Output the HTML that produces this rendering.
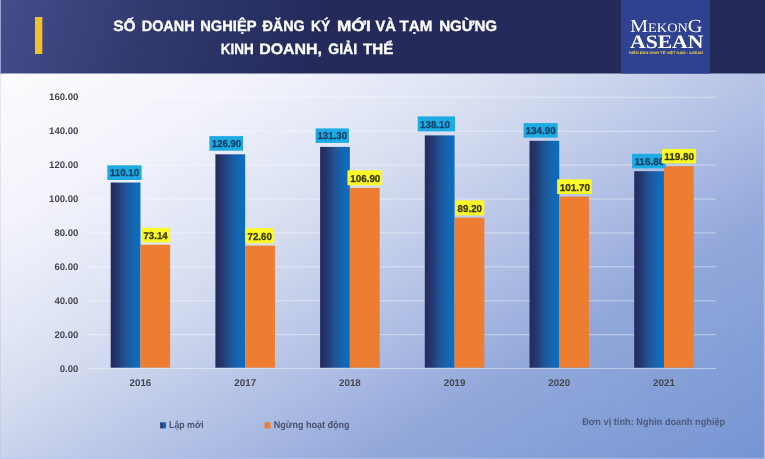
<!DOCTYPE html>
<html><head><meta charset="utf-8">
<style>
html,body{margin:0;padding:0;background:#fff;}
body{width:765px;height:459px;overflow:hidden;font-family:"Liberation Sans",sans-serif;}
svg{display:block;will-change:transform;}
text{font-family:"Liberation Sans",sans-serif;font-weight:bold;text-rendering:geometricPrecision;}
.ser{font-family:"Liberation Serif",serif;}
</style></head><body>
<svg width="765" height="459" viewBox="0 0 765 459">
<defs>
<linearGradient id="bg" x1="0" y1="0" x2="1" y2="1">
<stop offset="0" stop-color="#ffffff"/>
<stop offset="0.08" stop-color="#fcfcfe"/>
<stop offset="0.25" stop-color="#f2f3fb"/>
<stop offset="0.316" stop-color="#e9ecf8"/>
<stop offset="0.365" stop-color="#e2e7f5"/>
<stop offset="0.434" stop-color="#d7ddf1"/>
<stop offset="0.5" stop-color="#c8d2eb"/>
<stop offset="0.58" stop-color="#b7c4e7"/>
<stop offset="0.74" stop-color="#92a8da"/>
<stop offset="1" stop-color="#7595d3"/>
</linearGradient>
<linearGradient id="hd" gradientUnits="userSpaceOnUse" x1="0" y1="0" x2="300" y2="90">
<stop offset="0" stop-color="#454e8b"/>
<stop offset="0.5" stop-color="#30386d"/>
<stop offset="1" stop-color="#242b5b"/>
</linearGradient>
<linearGradient id="bl" x1="0" y1="0" x2="1" y2="0">
<stop offset="0" stop-color="#222b5d"/>
<stop offset="0.2" stop-color="#25356d"/>
<stop offset="0.5" stop-color="#1f5596"/>
<stop offset="0.8" stop-color="#1268b6"/>
<stop offset="1" stop-color="#0c6ec2"/>
</linearGradient>
</defs>
<rect x="0" y="0" width="765" height="459" fill="url(#bg)"/>
<rect x="0" y="0" width="765" height="73.5" fill="url(#hd)"/>
<rect x="621" y="0" width="89" height="73.5" fill="#2f4290"/>
<rect x="35" y="17" width="7.3" height="37" fill="#f3c02d"/>

<line x1="88" x2="716" y1="368.6" y2="368.6" stroke="#ffffff" stroke-opacity="0.45" stroke-width="1"/>
<text x="78.4" y="371.8" text-anchor="end" font-size="9.6" fill="#45474f">0.00</text>
<line x1="88" x2="716" y1="334.7" y2="334.7" stroke="#ffffff" stroke-opacity="0.45" stroke-width="1"/>
<text x="78.4" y="337.9" text-anchor="end" font-size="9.6" fill="#45474f">20.00</text>
<line x1="88" x2="716" y1="300.8" y2="300.8" stroke="#ffffff" stroke-opacity="0.45" stroke-width="1"/>
<text x="78.4" y="304.0" text-anchor="end" font-size="9.6" fill="#45474f">40.00</text>
<line x1="88" x2="716" y1="266.8" y2="266.8" stroke="#ffffff" stroke-opacity="0.45" stroke-width="1"/>
<text x="78.4" y="270.0" text-anchor="end" font-size="9.6" fill="#45474f">60.00</text>
<line x1="88" x2="716" y1="232.9" y2="232.9" stroke="#ffffff" stroke-opacity="0.45" stroke-width="1"/>
<text x="78.4" y="236.1" text-anchor="end" font-size="9.6" fill="#45474f">80.00</text>
<line x1="88" x2="716" y1="199.0" y2="199.0" stroke="#ffffff" stroke-opacity="0.45" stroke-width="1"/>
<text x="78.4" y="202.2" text-anchor="end" font-size="9.6" fill="#45474f">100.00</text>
<line x1="88" x2="716" y1="165.1" y2="165.1" stroke="#ffffff" stroke-opacity="0.45" stroke-width="1"/>
<text x="78.4" y="168.3" text-anchor="end" font-size="9.6" fill="#45474f">120.00</text>
<line x1="88" x2="716" y1="131.2" y2="131.2" stroke="#ffffff" stroke-opacity="0.45" stroke-width="1"/>
<text x="78.4" y="134.4" text-anchor="end" font-size="9.6" fill="#45474f">140.00</text>
<line x1="88" x2="716" y1="97.2" y2="97.2" stroke="#ffffff" stroke-opacity="0.45" stroke-width="1"/>
<text x="78.4" y="100.4" text-anchor="end" font-size="9.6" fill="#45474f">160.00</text>
<rect x="110.7" y="182.5" width="29.75" height="185.2" fill="url(#bl)"/>
<rect x="140.4" y="244.7" width="29.75" height="123.0" fill="#ed7d31"/>
<text x="140.4" y="385.9" text-anchor="middle" font-size="9.8" fill="#45474f">2016</text>
<rect x="215.4" y="154.3" width="29.75" height="213.4" fill="url(#bl)"/>
<rect x="245.2" y="245.6" width="29.75" height="122.1" fill="#ed7d31"/>
<text x="245.2" y="385.9" text-anchor="middle" font-size="9.8" fill="#45474f">2017</text>
<rect x="320.1" y="146.9" width="29.75" height="220.8" fill="url(#bl)"/>
<rect x="349.9" y="187.9" width="29.75" height="179.8" fill="#ed7d31"/>
<text x="349.9" y="385.9" text-anchor="middle" font-size="9.8" fill="#45474f">2018</text>
<rect x="424.8" y="135.4" width="29.75" height="232.3" fill="url(#bl)"/>
<rect x="454.6" y="217.7" width="29.75" height="150.0" fill="#ed7d31"/>
<text x="454.6" y="385.9" text-anchor="middle" font-size="9.8" fill="#45474f">2019</text>
<rect x="529.5" y="140.8" width="29.75" height="226.9" fill="url(#bl)"/>
<rect x="559.2" y="196.6" width="29.75" height="171.1" fill="#ed7d31"/>
<text x="559.2" y="385.9" text-anchor="middle" font-size="9.8" fill="#45474f">2020</text>
<rect x="634.2" y="171.2" width="29.75" height="196.5" fill="url(#bl)"/>
<rect x="664.0" y="166.2" width="29.75" height="201.5" fill="#ed7d31"/>
<text x="664.0" y="385.9" text-anchor="middle" font-size="9.8" fill="#45474f">2021</text>
<rect x="107.3" y="165.3" width="34.3" height="14.7" fill="#1eaae3"/>
<text x="109.8" y="176.3" font-size="10" fill="#17436a" stroke="#17436a" stroke-width="0.3" textLength="29.4" lengthAdjust="spacingAndGlyphs">110.10</text>
<rect x="209.4" y="136.1" width="33.6" height="14.6" fill="#1eaae3"/>
<text x="211.8" y="147.2" font-size="10" fill="#17436a" stroke="#17436a" stroke-width="0.3" textLength="29.4" lengthAdjust="spacingAndGlyphs">126.90</text>
<rect x="315.6" y="128.4" width="33.3" height="14.5" fill="#1eaae3"/>
<text x="317.5" y="139.4" font-size="10" fill="#17436a" stroke="#17436a" stroke-width="0.3" textLength="29.5" lengthAdjust="spacingAndGlyphs">131.30</text>
<rect x="417.7" y="116.4" width="37.3" height="15.0" fill="#1eaae3"/>
<text x="420.1" y="127.8" font-size="10" fill="#17436a" stroke="#17436a" stroke-width="0.3" textLength="29.8" lengthAdjust="spacingAndGlyphs">138.10</text>
<rect x="523.6" y="123.1" width="34.1" height="14.6" fill="#1eaae3"/>
<text x="525.6" y="134.0" font-size="10" fill="#17436a" stroke="#17436a" stroke-width="0.3" textLength="30.2" lengthAdjust="spacingAndGlyphs">134.90</text>
<rect x="632.1" y="153.8" width="33.7" height="14.6" fill="#1eaae3"/>
<text x="634.4" y="165.0" font-size="10" fill="#17436a" stroke="#17436a" stroke-width="0.3" textLength="29.8" lengthAdjust="spacingAndGlyphs">116.80</text>
<rect x="141.8" y="227.8" width="28.4" height="14.6" fill="#fdf928"/>
<text x="143.5" y="239.1" font-size="10" fill="#38360f" stroke="#38360f" stroke-width="0.3" textLength="24.1" lengthAdjust="spacingAndGlyphs">73.14</text>
<rect x="245.6" y="228.2" width="28.6" height="15.1" fill="#fdf928"/>
<text x="247.5" y="239.6" font-size="10" fill="#38360f" stroke="#38360f" stroke-width="0.3" textLength="24.4" lengthAdjust="spacingAndGlyphs">72.60</text>
<rect x="347.5" y="170.3" width="34.6" height="15.0" fill="#fdf928"/>
<text x="350.3" y="181.7" font-size="10" fill="#38360f" stroke="#38360f" stroke-width="0.3" textLength="30.0" lengthAdjust="spacingAndGlyphs">106.90</text>
<rect x="455.3" y="200.4" width="29.0" height="15.0" fill="#fdf928"/>
<text x="457.6" y="211.9" font-size="10" fill="#38360f" stroke="#38360f" stroke-width="0.3" textLength="24.4" lengthAdjust="spacingAndGlyphs">89.20</text>
<rect x="557.2" y="179.3" width="34.5" height="14.8" fill="#fdf928"/>
<text x="559.7" y="190.7" font-size="10" fill="#38360f" stroke="#38360f" stroke-width="0.3" textLength="30.4" lengthAdjust="spacingAndGlyphs">101.70</text>
<rect x="662.1" y="148.9" width="34.0" height="14.6" fill="#fdf928"/>
<text x="664.2" y="160.1" font-size="10" fill="#38360f" stroke="#38360f" stroke-width="0.3" textLength="30.0" lengthAdjust="spacingAndGlyphs">119.80</text>
<text x="113.2" y="31.2" font-size="15.0" fill="#ffffff" stroke="#ffffff" stroke-width="0.35" textLength="22.5" lengthAdjust="spacingAndGlyphs">SỐ</text>
<text x="141.7" y="31.2" font-size="15.0" fill="#ffffff" stroke="#ffffff" stroke-width="0.35" textLength="53.0" lengthAdjust="spacingAndGlyphs">DOANH</text>
<text x="200.2" y="31.2" font-size="15.0" fill="#ffffff" stroke="#ffffff" stroke-width="0.35" textLength="56.3" lengthAdjust="spacingAndGlyphs">NGHIỆP</text>
<text x="262.5" y="31.2" font-size="15.0" fill="#ffffff" stroke="#ffffff" stroke-width="0.35" textLength="42.2" lengthAdjust="spacingAndGlyphs">ĐĂNG</text>
<text x="311" y="31.2" font-size="15.0" fill="#ffffff" stroke="#ffffff" stroke-width="0.35" textLength="19.2" lengthAdjust="spacingAndGlyphs">KÝ</text>
<text x="337" y="31.2" font-size="15.0" fill="#ffffff" stroke="#ffffff" stroke-width="0.35" textLength="33.8" lengthAdjust="spacingAndGlyphs">MỚI</text>
<text x="375.5" y="31.2" font-size="15.0" fill="#ffffff" stroke="#ffffff" stroke-width="0.35" textLength="20.5" lengthAdjust="spacingAndGlyphs">VÀ</text>
<text x="399.4" y="31.2" font-size="15.0" fill="#ffffff" stroke="#ffffff" stroke-width="0.35" textLength="32.9" lengthAdjust="spacingAndGlyphs">TẠM</text>
<text x="439.2" y="31.2" font-size="15.0" fill="#ffffff" stroke="#ffffff" stroke-width="0.35" textLength="57.9" lengthAdjust="spacingAndGlyphs">NGỪNG</text>
<text x="220.8" y="54" font-size="15.0" fill="#ffffff" stroke="#ffffff" stroke-width="0.35" textLength="32.9" lengthAdjust="spacingAndGlyphs">KINH</text>
<text x="259.2" y="54" font-size="15.0" fill="#ffffff" stroke="#ffffff" stroke-width="0.35" textLength="62.8" lengthAdjust="spacingAndGlyphs">DOANH,</text>
<text x="328.3" y="54" font-size="15.0" fill="#ffffff" stroke="#ffffff" stroke-width="0.35" textLength="28.8" lengthAdjust="spacingAndGlyphs">GIẢI</text>
<text x="363.1" y="54" font-size="15.0" fill="#ffffff" stroke="#ffffff" stroke-width="0.35" textLength="30.2" lengthAdjust="spacingAndGlyphs">THỂ</text>

<rect x="160.2" y="422.3" width="5.9" height="6.1" fill="url(#bl)"/>
<text x="169.1" y="428.4" font-size="9.8" fill="#4a5270" textLength="34.5" lengthAdjust="spacingAndGlyphs">Lập mới</text>
<rect x="264.6" y="422.3" width="5.9" height="6.1" fill="#ed7d31"/>
<text x="273.8" y="428.4" font-size="9.8" fill="#4a5270" textLength="75.8" lengthAdjust="spacingAndGlyphs">Ngừng hoạt động</text>
<text x="582.2" y="425.2" font-size="9.8" fill="#4d5a7c" textLength="143" lengthAdjust="spacingAndGlyphs">Đơn vị tính: Nghìn doanh nghiệp</text>
<text class="ser" x="630" y="31.5" font-size="13" fill="#ffffff" style="font-weight:normal" textLength="72.6" lengthAdjust="spacingAndGlyphs"><tspan font-size="18.5">M</tspan>EKON<tspan font-size="18.5">G</tspan></text>
<text class="ser" x="630" y="47.7" font-size="19" fill="#ffffff" textLength="73.4" lengthAdjust="spacingAndGlyphs">ASEAN</text>
<text x="629" y="54" font-size="3.6" fill="#f3d24a" textLength="74" lengthAdjust="spacingAndGlyphs">DIỄN ĐÀN KINH TẾ VIỆT NAM - ASEAN</text>
<rect x="0" y="0" width="1" height="73.5" fill="#9c9fce"/>
<rect x="0" y="73.5" width="1" height="386" fill="#b8bccf" fill-opacity="0.35"/>
<rect x="763.8" y="73.5" width="1.2" height="386" fill="#b4c8f0" fill-opacity="0.8"/>
<rect x="0" y="457.8" width="765" height="1.2" fill="#b4c8f0" fill-opacity="0.6"/>
</svg>
</body></html>
